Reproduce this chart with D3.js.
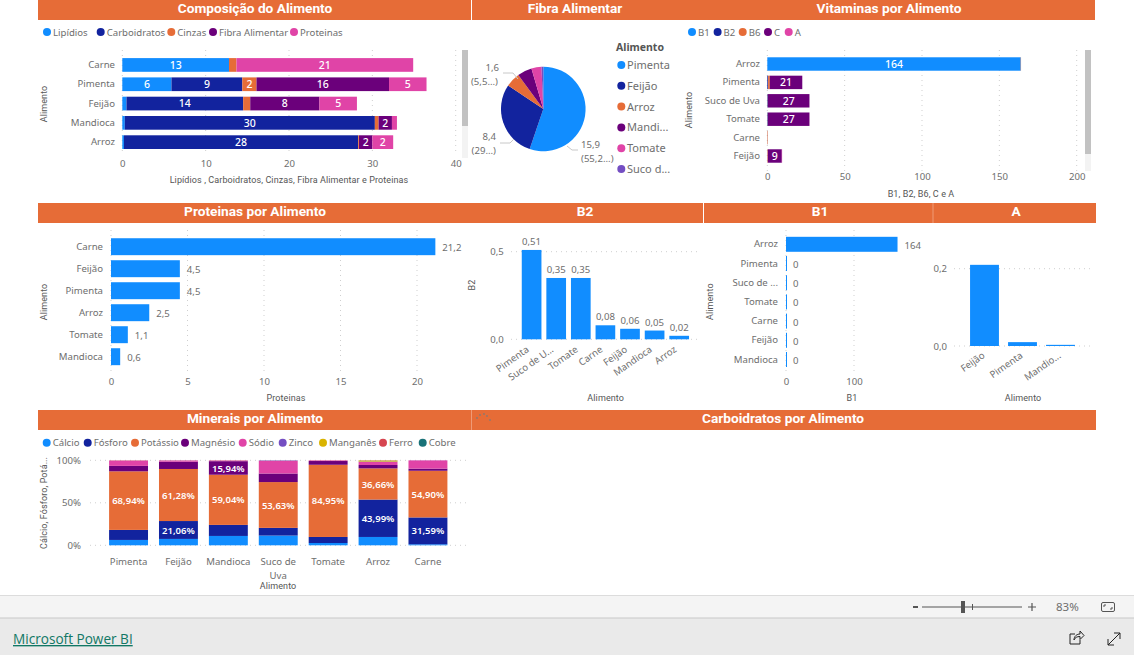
<!DOCTYPE html>
<html lang="pt">
<head>
<meta charset="utf-8">
<title>Composição do Alimento</title>
<script src="https://cdn.jsdelivr.net/npm/d3@7"></script>
<style>
html,body{margin:0;padding:0;background:#fff;overflow:hidden}
svg{display:block}
text{font-family:"Noto Sans",sans-serif;fill:#6e6e6e}
.hd{font-family:Roboto,sans-serif;font-weight:700;font-size:13.7px;fill:#fff;text-anchor:middle}
.at{font-family:Roboto,sans-serif;font-size:9px;fill:#555;text-anchor:middle;letter-spacing:.1px}
.cat{font-size:9.6px}
.lab{font-size:9.5px;font-weight:600;fill:#fff;text-anchor:middle}
.labw{font-size:10.5px;font-weight:500;fill:#fff;text-anchor:middle}
.val{font-size:9.6px;fill:#6e6e6e}
.grid{stroke:#cfcfcf;stroke-width:1;stroke-dasharray:1 4}
</style>
</head>
<body>
<svg id="c" width="1134" height="655"></svg>
<script>
// ---------- data ----------
const compFoods = ["Carne","Pimenta","Feijão","Mandioca","Arroz"];
const compSeries = ["Lipídios","Carboidratos","Cinzas","Fibra Alimentar","Proteinas"];
const compLipidios = [12.8,5.9,0.5,0.3,0.2];
const compCarbo = [0,8.5,14,30,28.1];
const compCinzas = [0.9,1.7,0.85,0.45,0.1];
const compFibra = [0,15.9,8.3,1.6,1.6];
const compProteinas = [21.2,4.5,4.5,0.6,2.5];
const compTicks = [0,10,20,30,40];

const pieFoods = ["Pimenta","Feijão","Arroz","Mandioca","Tomate","Suco de Uva"];
const pieValues = [15.9,8.4,1.6,1.6,1.1,0.2];
const pieLegend = ["Pimenta","Feijão","Arroz","Mandi...","Tomate","Suco d..."];

const vitFoods = ["Arroz","Pimenta","Suco de Uva","Tomate","Carne","Feijão"];
const vitSeries = ["B1","B2","B6","C","A"];
const vitB1 = [163.8,0,0,0,0,0];
const vitB2 = [0.02,0.51,0.35,0.35,0.08,0.06];
const vitB6 = [0.2,1.1,0.1,0.1,0.3,0.3];
const vitC = [0,21,26.8,26.8,0,9];
const vitA = [0,0.01,0,0.04,0,0.21];
const vitTicks = [0,50,100,150,200];

const protFoods = ["Carne","Feijão","Pimenta","Arroz","Tomate","Mandioca"];
const protValues = [21.2,4.5,4.5,2.5,1.1,0.6];
const protTicks = [0,5,10,15,20];

const b2Foods = ["Pimenta","Suco de U...","Tomate","Carne","Feijão","Mandioca","Arroz"];
const b2Values = [0.51,0.35,0.35,0.08,0.06,0.05,0.02];
const b2Ticks = [0,0.5];

const b1Foods = ["Arroz","Pimenta","Suco de ...","Tomate","Carne","Feijão","Mandioca"];
const b1Values = [164,0,0,0,0,0,0];
const b1Ticks = [0,100];

const aFoods = ["Feijão","Pimenta","Mandio..."];
const aValues = [0.21,0.01,0.003];
const aTicks = [0,0.2];

const minFoods = ["Pimenta","Feijão","Mandioca","Suco de Uva","Tomate","Arroz","Carne"];
const minSeries = ["Cálcio","Fósforo","Potássio","Magnésio","Sódio","Zinco","Manganês","Ferro","Cobre"];
const minCalcio = [6.3,7.5,11,11.4,2.7,9.8,1.2];
const minFosforo = [11.8,21.06,13,9,7.1,43.99,31.59];
const minPotassio = [68.94,61.28,59.04,53.63,84.95,36.66,54.90];
const minMagnesio = [6.4,8.6,15.94,10,4.4,4,2.5];
const minSodio = [6.3,1.4,0.8,14.9,0.7,3.5,9.7];
const minZinco = [0.1,0.1,0.1,0.5,0.05,0.5,0.1];
const minManganes = [0.1,0.05,0.1,0.05,0.05,1.2,0];
const minFerro = [0.05,0.05,0.02,0.02,0.05,0.2,0.01];
const minCobre = [0.01,0.02,0.01,0.01,0,0.1,0];
const minTicks = [0,50,100];

const palette = ["#118DFF","#12239E","#E66C37","#6B007B","#E044A7","#744EC2","#D9B300","#D64550","#197278"];

// ---------- helpers ----------
const svg = d3.select("#c");
const orange = "#E66C37";
const comma = v => String(v).replace(".", ",");
const comma1 = v => v.toFixed(1).replace(".", ",");

function header(x0,x1,y,title,cx){
  svg.append("rect").attr("x",x0).attr("y",y).attr("width",x1-x0).attr("height",20).attr("fill",orange);
  svg.append("text").attr("class","hd").attr("x",cx===undefined?(x0+x1)/2:cx).attr("y",y+13).text(title);
}
function axisTitle(x,y,t,rot){
  const e = svg.append("text").attr("class","at").text(t);
  if(rot) e.attr("transform",`translate(${x},${y}) rotate(-90)`);
  else e.attr("x",x).attr("y",y);
}
function vGrid(scale,ticks,y0,y1){
  svg.append("g").selectAll("line").data(ticks).join("line").attr("class","grid")
    .attr("x1",d=>scale(d)).attr("x2",d=>scale(d)).attr("y1",y0).attr("y2",y1);
}
function hGrid(scale,ticks,x0,x1){
  svg.append("g").selectAll("line").data(ticks).join("line").attr("class","grid")
    .attr("y1",d=>scale(d)).attr("y2",d=>scale(d)).attr("x1",x0).attr("x2",x1);
}
function styleAxis(g){
  g.select(".domain").remove();
  g.selectAll(".tick line").remove();
  g.selectAll("text").attr("class","cat").attr("fill",null).style("font-family",null);
  g.attr("font-family",null).attr("font-size",null);
}
function bottomAxis(scale,ticks,y,fmt){
  svg.append("g").attr("transform",`translate(0,${y})`)
    .call(d3.axisBottom(scale).tickValues(ticks).tickSize(0).tickPadding(0).tickFormat(fmt||comma))
    .call(styleAxis);
}
function leftAxis(scale,x,ticks,fmt){
  const a = d3.axisLeft(scale).tickSize(0).tickPadding(0);
  if(ticks) a.tickValues(ticks);
  if(fmt) a.tickFormat(fmt);
  svg.append("g").attr("transform",`translate(${x},0)`).call(a).call(styleAxis);
}
function band(domain,range,p){
  return d3.scaleBand().domain(domain).range(range).paddingInner(p).paddingOuter(p/2);
}
function legend(names,xs,y){
  names.forEach((n,i)=>{
    svg.append("circle").attr("cx",xs[i]).attr("cy",y).attr("r",4).attr("fill",palette[i]);
    svg.append("text").attr("class","cat").attr("x",xs[i]+6).attr("y",y+3.5).text(n);
  });
}
function stackRows(foods,series,cols){
  const rows = foods.map((f,i)=>{const r={food:f};series.forEach((s,j)=>r[s]=cols[j][i]);return r;});
  return d3.stack().keys(series)(rows);
}
function hStack(layers,x,y,labelFn){
  layers.forEach((l,i)=>{
    svg.append("g").attr("fill",palette[i]).selectAll("rect").data(l).join("rect")
      .attr("x",d=>x(d[0])).attr("y",d=>y(d.data.food))
      .attr("width",d=>x(d[1])-x(d[0])).attr("height",y.bandwidth());
  });
  layers.forEach(l=>{
    svg.append("g").selectAll("text").data(l.filter(d=>labelFn(d[1]-d[0]))).join("text").attr("class","labw")
      .attr("x",d=>(x(d[0])+x(d[1]))/2).attr("y",d=>y(d.data.food)+y.bandwidth()/2+3.8)
      .text(d=>Math.round(d[1]-d[0]));
  });
}
function scrollbar(x,y0,y1,y2){
  svg.append("rect").attr("x",x).attr("y",y0).attr("width",6).attr("height",y2-y0).attr("fill","#f3f3f3");
  svg.append("rect").attr("x",x).attr("y",y0).attr("width",6).attr("height",y1-y0).attr("fill","#c2c2c2");
}

// ---------- headers ----------
header(38,471,0,"Composição do Alimento",255);
header(472,1095,0,"",783);
svg.append("text").attr("class","hd").attr("x",575).attr("y",13).text("Fibra Alimentar");
svg.append("text").attr("class","hd").attr("x",889).attr("y",13).text("Vitaminas por Alimento");
header(38,471,203,"Proteinas por Alimento",255);
header(471,703,203,"B2",585);
header(704,933,203,"B1",820);
header(933,1096,203,"A",1016);
header(38,471,410,"Minerais por Alimento",255);
header(471,1096,410,"Carboidratos por Alimento",783);
svg.append("line").attr("x1",471.5).attr("x2",471.5).attr("y1",410).attr("y2",430).attr("stroke","#ef9a76");
svg.append("line").attr("x1",933).attr("x2",933).attr("y1",203).attr("y2",223).attr("stroke","#ef9a76");

// ---------- composição ----------
(function(){
  const x = d3.scaleLinear().domain([0,40]).range([122.3,455.7]);
  const y = band(compFoods,[55.3,151.8],.29);
  legend(compSeries,[47,100.7,171.3,213,294],32);
  vGrid(x,compTicks,50,155);
  leftAxis(y,115);
  const layers = stackRows(compFoods,compSeries,[compLipidios,compCarbo,compCinzas,compFibra,compProteinas]);
  hStack(layers,x,y,v=>v>=1.5);
  bottomAxis(x,compTicks,160);
  axisTitle(47,104,"Alimento",true);
  axisTitle(289,183,"Lipídios , Carboidratos, Cinzas, Fibra Alimentar e Proteinas");
  scrollbar(462,50,126,158);
})();

// ---------- fibra (pizza) ----------
(function(){
  const cx=543.3, cy=109, r=42.3;
  const color = d3.scaleOrdinal().domain(pieFoods).range(palette);
  const arcs = d3.pie().sort(null).value(d=>d.v)(pieFoods.map((f,i)=>({f,v:pieValues[i]})));
  const arc = d3.arc().innerRadius(0).outerRadius(r);
  svg.append("g").attr("transform",`translate(${cx},${cy})`).selectAll("path").data(arcs).join("path")
    .attr("d",arc).attr("fill",d=>color(d.data.f));
  const line = d3.line();
  [[[503,73],[513,73],[518,79]],[[500,143],[510,143],[514,139]],[[567,146],[572,150],[578,150]]].forEach(p=>{
    svg.append("path").attr("d",line(p)).attr("fill","none").attr("stroke","#c8c8c8");
  });
  const lbl=(x,y,t,a)=>svg.append("text").attr("class","val").attr("x",x).attr("y",y).attr("text-anchor",a||"start").text(t);
  lbl(499,71,comma(pieValues[2]),"end"); lbl(498,85,"(5,5...)","end");
  lbl(496,140,comma(pieValues[1]),"end"); lbl(496,154,"(29...)","end");
  lbl(581,148,comma(pieValues[0])); lbl(581,162,"(55,2...)");
  svg.append("text").attr("x",616).attr("y",51).attr("font-size",10.5).attr("font-weight",700).style("fill","#555").text("Alimento");
  const ly = d3.scalePoint().domain(pieLegend).range([65,169]);
  pieLegend.forEach((n,i)=>{
    svg.append("circle").attr("cx",621.3).attr("cy",ly(n)).attr("r",4).attr("fill",palette[i]);
    svg.append("text").attr("x",627).attr("y",ly(n)+4).attr("font-size",11).text(n);
  });
})();

// ---------- vitaminas ----------
(function(){
  const x = d3.scaleLinear().domain([0,200]).range([767.3,1076.7]);
  const y = band(vitFoods,[54.8,165.2],.27);
  legend(vitSeries,[692,717.6,742.7,768,788.7],32);
  vGrid(x,vitTicks,50,172);
  leftAxis(y,760);
  const layers = stackRows(vitFoods,vitSeries,[vitB1,vitB2,vitB6,vitC,vitA]);
  hStack(layers,x,y,v=>v>=5);
  bottomAxis(x,vitTicks,173);
  axisTitle(692,110,"Alimento",true);
  axisTitle(921,197,"B1, B2, B6, C e A");
  scrollbar(1085,50,154,171);
})();

// ---------- proteínas ----------
(function(){
  const x = d3.scaleLinear().domain([0,20]).range([111,417]);
  const y = band(protFoods,[235.7,367.7],.23);
  vGrid(x,protTicks,230,372);
  leftAxis(y,103);
  const g = svg.append("g");
  g.selectAll("rect").data(protFoods).join("rect").attr("x",x(0)).attr("y",d=>y(d))
    .attr("width",(d,i)=>x(protValues[i])-x(0)).attr("height",y.bandwidth()).attr("fill",palette[0]);
  g.selectAll("text").data(protFoods).join("text").attr("class","val")
    .attr("x",(d,i)=>x(protValues[i])+7).attr("y",d=>y(d)+y.bandwidth()/2+4.5).text((d,i)=>comma(protValues[i]));
  bottomAxis(x,protTicks,378);
  axisTitle(47,302,"Alimento",true);
  axisTitle(286,401,"Proteinas");
})();

// ---------- B2 ----------
function rotatedLabels(x,y,names,off){
  svg.append("g").selectAll("text").data(names).join("text").attr("class","cat").attr("text-anchor","end")
    .attr("transform",d=>`translate(${x(d)+x.bandwidth()/2+off},${y}) rotate(-35)`).text(d=>d);
}
(function(){
  const x = band(b2Foods,[519.3,691.5],.2);
  const y = d3.scaleLinear().domain([0,0.5]).range([339.3,251.7]);
  hGrid(y,b2Ticks,511,697);
  const g = svg.append("g");
  g.selectAll("rect").data(b2Foods).join("rect").attr("x",d=>x(d)).attr("width",x.bandwidth())
    .attr("y",(d,i)=>y(b2Values[i])).attr("height",(d,i)=>y(0)-y(b2Values[i])).attr("fill",palette[0]);
  g.selectAll("text").data(b2Foods).join("text").attr("class","val").attr("text-anchor","middle")
    .attr("x",d=>x(d)+x.bandwidth()/2).attr("y",(d,i)=>y(b2Values[i])-5).text((d,i)=>comma(b2Values[i]));
  leftAxis(y,503.7,b2Ticks,comma1);
  rotatedLabels(x,351,b2Foods,-2);
  axisTitle(475,285,"B2",true);
  axisTitle(605.7,401,"Alimento");
})();

// ---------- B1 ----------
(function(){
  const x = d3.scaleLinear().domain([0,100]).range([786,854]);
  const y = band(b1Foods,[234.7,369.1],.22);
  vGrid(x,b1Ticks,230,372);
  leftAxis(y,778);
  const g = svg.append("g");
  g.selectAll("rect").data(b1Foods).join("rect").attr("x",x(0)).attr("y",d=>y(d))
    .attr("width",(d,i)=>Math.max(x(b1Values[i])-x(0),1)).attr("height",y.bandwidth()).attr("fill",palette[0]);
  g.selectAll("text").data(b1Foods).join("text").attr("class","val")
    .attr("x",(d,i)=>x(b1Values[i])+7).attr("y",d=>y(d)+y.bandwidth()/2+4.5).text((d,i)=>comma(b1Values[i]));
  bottomAxis(x,b1Ticks,378);
  axisTitle(713,301.7,"Alimento",true);
  axisTitle(852,401,"B1");
})();

// ---------- A ----------
(function(){
  const x = band(aFoods,[965.5,1079.5],.24);
  const y = d3.scaleLinear().domain([0,0.2]).range([346,268.7]);
  hGrid(y,aTicks,954,1091);
  svg.append("g").selectAll("rect").data(aFoods).join("rect").attr("x",d=>x(d)).attr("width",x.bandwidth())
    .attr("y",(d,i)=>y(aValues[i])).attr("height",(d,i)=>y(0)-y(aValues[i])).attr("fill",palette[0]);
  leftAxis(y,947,aTicks,comma1);
  rotatedLabels(x,357,aFoods,1);
  axisTitle(1023,401,"Alimento");
})();

// ---------- minerais ----------
(function(){
  const x = band(minFoods,[103.6,452.9],.22);
  const y = d3.scaleLinear().domain([0,100]).range([545.3,460.3]);
  legend(minSeries,[46.7,87.7,135,185,242.7,282.7,323,383,422.7],442.7);
  hGrid(y,minTicks,90,467);
  const cols=[minCalcio,minFosforo,minPotassio,minMagnesio,minSodio,minZinco,minManganes,minFerro,minCobre];
  const layers = d3.stack().keys(minSeries).offset(d3.stackOffsetExpand)(
    minFoods.map((f,i)=>{const r={food:f};minSeries.forEach((s,j)=>r[s]=cols[j][i]);return r;}));
  layers.forEach((l,i)=>{
    svg.append("g").attr("fill",palette[i]).selectAll("rect").data(l).join("rect")
      .attr("x",d=>x(d.data.food)).attr("width",x.bandwidth())
      .attr("y",d=>y(d[1]*100)).attr("height",d=>y(d[0]*100)-y(d[1]*100));
  });
  layers.forEach((l,i)=>{
    svg.append("g").selectAll("text").data(l.filter(d=>d.data[minSeries[i]]>=15)).join("text").attr("class","lab")
      .attr("x",d=>x(d.data.food)+x.bandwidth()/2).attr("y",d=>(y(d[0]*100)+y(d[1]*100))/2+3.6)
      .text(d=>d.data[minSeries[i]].toFixed(2).replace(".",",")+"%");
  });
  leftAxis(y,81,minTicks,d=>d+"%");
  const g = svg.append("g");
  minFoods.forEach(f=>{
    const parts = f.length>8 ? [f.slice(0,f.lastIndexOf(" ")),f.slice(f.lastIndexOf(" ")+1)] : [f];
    parts.forEach((p,i)=>g.append("text").attr("class","cat").attr("text-anchor","middle")
      .attr("x",x(f)+x.bandwidth()/2).attr("y",565+i*13.5).text(p));
  });
  axisTitle(47,503,"Cálcio, Fósforo, Potá...",true);
  axisTitle(278,589,"Alimento");
})();

// focus-mode glyph on the empty visual
svg.append("g").attr("fill","#8a7a70").selectAll("circle")
  .data([[477,418],[480,415],[484,414],[487,416],[490,420]]).join("circle")
  .attr("cx",d=>d[0]).attr("cy",d=>d[1]).attr("r",.9);

// ---------- page footer ----------
svg.append("rect").attr("x",0).attr("y",596).attr("width",1134).attr("height",22).attr("fill","#f4f4f4");
svg.append("line").attr("x1",0).attr("x2",1134).attr("y1",595.5).attr("y2",595.5).attr("stroke","#dcdcdc");
svg.append("rect").attr("x",0).attr("y",618).attr("width",1134).attr("height",37).attr("fill","#eaeaea");
svg.append("line").attr("x1",0).attr("x2",1134).attr("y1",618).attr("y2",618).attr("stroke","#c8c8c8");
svg.append("text").attr("x",13).attr("y",644).attr("font-size",13.6).style("fill","#117865")
  .attr("text-decoration","underline").style("font-family","'Open Sans',sans-serif").text("Microsoft Power BI");
const fg="#555";
svg.append("rect").attr("x",913).attr("y",606).attr("width",5).attr("height",2).attr("fill",fg);
svg.append("line").attr("x1",922).attr("x2",1022).attr("y1",607).attr("y2",607).attr("stroke",fg);
svg.append("rect").attr("x",961).attr("y",601).attr("width",4).attr("height",12).attr("fill",fg);
svg.append("line").attr("x1",972.5).attr("x2",972.5).attr("y1",604).attr("y2",610).attr("stroke",fg);
svg.append("path").attr("d","M1028 607h8M1032 603v8").attr("stroke",fg).attr("stroke-width",1.2);
svg.append("text").attr("x",1056).attr("y",611).attr("font-size",11.5).text("83%");
svg.append("rect").attr("x",1101.5).attr("y",602.5).attr("width",13).attr("height",9).attr("rx",1.5).attr("fill","none").attr("stroke",fg);
svg.append("path").attr("d","M1104 605h2M1104 605v2M1112 609h-2M1112 609v-2").attr("stroke",fg).attr("fill","none");
svg.append("path").attr("d","M1075 634h-5v10h10v-4M1074 640c0-4 3-6 6-6v-3l4 4.500-4 4v-3c-3 0-5 1-6 3.500").attr("stroke","#222").attr("fill","none");
svg.append("path").attr("d","M1108 645l12-12M1114 633h6v6M1108 639v6h6").attr("stroke","#222").attr("fill","none");
</script>
</body>
</html>
